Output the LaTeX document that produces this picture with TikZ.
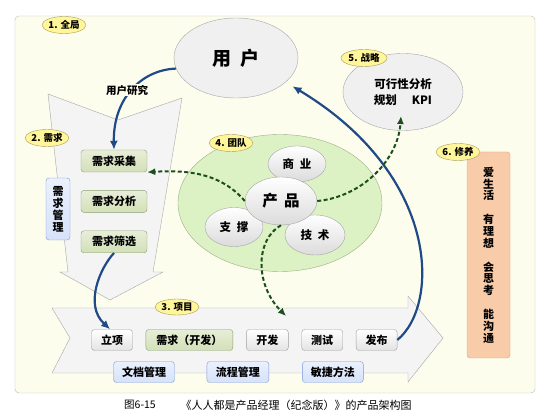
\documentclass[tikz,border=0pt]{standalone}
\usepackage{fontspec}
\setmainfont{Noto Sans CJK SC}
\usepackage{tikz}
\usetikzlibrary{positioning,shapes.geometric,arrows.meta}

\definecolor{cream}{HTML}{FDFDEE}
\definecolor{tagfill}{HTML}{FFF59A}
\definecolor{tagline}{HTML}{A89E55}
\definecolor{navy}{HTML}{1F4A86}
\definecolor{darkgreen}{HTML}{1D4F1E}
\definecolor{teamfill}{HTML}{DCF1C4}
\definecolor{teamline}{HTML}{9BAF84}
\definecolor{grnfill}{HTML}{D3E0B8}
\definecolor{grnline}{HTML}{8C9E72}
\definecolor{bluefill}{HTML}{D6E2FA}
\definecolor{blueline}{HTML}{7C98D6}
\definecolor{peach}{HTML}{F8CBA9}
\definecolor{peachline}{HTML}{D9A478}

\begin{document}
\begin{tikzpicture}[
  x=1pt, y=-1pt,
  node distance=13pt,
  tag/.style={ellipse, draw=tagline, fill=tagfill, inner sep=0pt, minimum width=44pt, minimum height=17pt, font=\bfseries\fontsize{9.5}{10}\selectfont},
  gbox/.style={draw=gray!75, rounded corners=3pt, top color=white, bottom color=gray!22, minimum height=21pt, inner sep=0pt, font=\bfseries\fontsize{11}{12}\selectfont},
  nbox/.style={gbox, draw=grnline, top color=grnfill!55, bottom color=grnfill},
  bbox/.style={gbox, draw=blueline, top color=bluefill!50, bottom color=bluefill},
  blob/.style={ellipse, draw=gray!70, top color=white, bottom color=gray!28, inner sep=0pt, font=\bfseries\fontsize{11.5}{13}\selectfont},
  bigblob/.style={ellipse, draw=gray!70, fill=gray!12, inner sep=0pt, align=center},
  shell/.style={draw=gray!70, fill=gray!9},
  arr/.style={-{Latex[length=9pt,width=8pt]}, navy, line width=2.2pt},
  darr/.style={-{Latex[length=8pt,width=7pt]}, darkgreen, line width=2pt, dash pattern=on 4pt off 2.5pt},
  lbl/.style={fill=cream, inner sep=1pt, font=\bfseries\fontsize{10.5}{12}\selectfont}
]
\useasboundingbox (0,0) rectangle (549,419);
\draw[draw=gray!55, fill=cream, rounded corners=4pt] (15,16) rectangle (535,393);

\node[ellipse, draw=teamline, fill=teamfill, minimum width=204pt, minimum height=137pt] (team) at (280,203) {};
\draw[shell] (48,94) -- (118,120) -- (182,98) -- (153,272) -- (163,272) -- (110,300) -- (60,272) -- (68,272) -- cycle;
\draw[shell] (52,308) -- (408,308) -- (408,296) -- (443,338) -- (408,382) -- (408,373) -- (52,373) -- (70,338) -- cycle;

\node[bigblob, minimum width=124pt, minimum height=80pt, font=\bfseries\fontsize{19}{20}\selectfont] (user) at (236,58) {用\hspace{0.45em}户};
\node[bigblob, minimum width=120pt, minimum height=77pt, font=\bfseries\fontsize{11.5}{16}\selectfont] (strat) at (403,92) {可行性分析\\规划\hspace{1.3em}KPI};

\node[blob, minimum width=58pt, minimum height=36pt] (biz) at (297,164) {商\hspace{0.5em}业};
\node[blob, minimum width=58pt, minimum height=39pt] (supp) at (234,227) {支\hspace{0.5em}撑};
\node[blob, minimum width=60pt, minimum height=40pt] (tech) at (315,235) {技\hspace{0.5em}术};
\node[blob, minimum width=72pt, minimum height=48pt, font=\bfseries\fontsize{15.5}{17}\selectfont] (prod) at (281,201) {产\hspace{0.4em}品};

\node[nbox, minimum width=66pt, minimum height=22pt] (collect) at (114,161) {需求采集};
\node[nbox, minimum width=66pt, minimum height=22pt, below=18pt of collect] (analyze) {需求分析};
\node[nbox, minimum width=66pt, minimum height=22pt, below=18pt of analyze] (screen) {需求筛选};
\node[bbox, minimum width=24pt, minimum height=62pt, align=center, font=\bfseries\fontsize{11}{12}\selectfont] (reqmgmt) at (58,209) {需\\求\\管\\理};

\node[gbox, minimum width=41pt] (launch) at (112,340) {立项};
\node[nbox, minimum width=87pt, right=of launch] (reqdev) {需求（开发）};
\node[gbox, minimum width=42pt, right=of reqdev] (dev) {开发};
\node[gbox, minimum width=41pt, right=of dev] (test) {测试};
\node[gbox, minimum width=41pt, right=of test] (release) {发布};

\node[bbox, minimum width=61pt] (docs) at (144,372) {文档管理};
\node[bbox, minimum width=62pt, right=32pt of docs] (flow) {流程管理};
\node[bbox, minimum width=61pt, right=33pt of flow] (agile) {敏捷方法};

\node[draw=peachline, fill=peach, rounded corners=3pt, minimum width=43pt, minimum height=206pt, inner sep=0pt, align=center, font=\bfseries\fontsize{11}{11.8}\selectfont] (growth) at (488.5,255) {爱\\生\\活\\[12pt]有\\理\\想\\[12pt]会\\思\\考\\[12pt]能\\沟\\通};

\coordinate (stratin) at (401,116);
\coordinate (devin) at (286,316);

\draw[arr] (user.190) .. controls (140,70) and (113,100) .. (collect.north);
\node[lbl] (study) at (127,90) {用户研究};
\draw[arr] (screen.south) .. controls (100,268) and (84,305) .. (launch.100);
\draw[arr, shorten >=8pt] (release.east) .. controls (440,305) and (440,175) .. (user.-26);

\draw[darr] (prod.west) .. controls (220,172) and (185,170) .. (collect.south east);
\draw[darr] (prod.east) .. controls (362,197) and (398,160) .. (stratin);
\draw[darr] (prod.south) .. controls (255,240) and (255,285) .. (devin);

\node[tag] (tagall) at (64,25) {1. 全局};
\node[tag, minimum width=37pt] (tagreq) at (47,138) {2. 需求};
\node[tag, minimum height=16pt] (tagproj) at (177,307) {3. 项目};
\node[tag, minimum width=43pt] (tagteam) at (231,143) {4. 团队};
\node[tag, minimum width=46pt] (tagstrat) at (364,58) {5. 战略};
\node[tag] (tagself) at (458,152) {6. 修养};

\node[font=\fontsize{10.5}{12}\selectfont] (fignum) at (140,405) {图6-15};
\node[font=\fontsize{11}{12}\selectfont] (caption) at (296,405) {《人人都是产品经理（纪念版）》的产品架构图};
\end{tikzpicture}
\end{document}
